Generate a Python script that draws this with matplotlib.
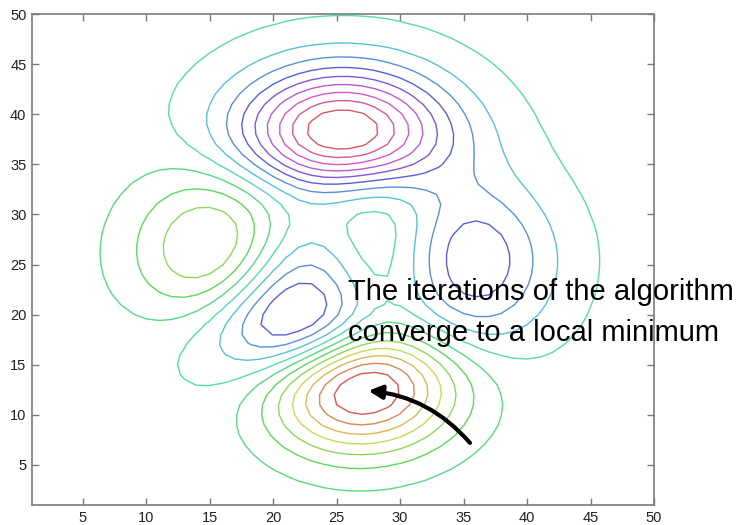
import colorsys
import numpy as np
import matplotlib
matplotlib.use("Agg")
import matplotlib.pyplot as plt

# Surface: the classic "peaks" test function sampled on a 50 x 50 grid
grid_n = 50
half_span = 3.0
n_levels = 16

# Axis ticks
x_ticks = [5, 10, 15, 20, 25, 30, 35, 40, 45, 50]
y_ticks = [5, 10, 15, 20, 25, 30, 35, 40, 45, 50]

# Annotation
caption_lines = ["The iterations of the algorithm", "converge to a local minimum"]
arrow_tail = (35.5, 7.2)
arrow_head = (27.5, 12.4)


def peaks(x, y):
    return (3 * (1 - x) ** 2 * np.exp(-x ** 2 - (y + 1) ** 2)
            - 10 * (x / 5 - x ** 3 - y ** 5) * np.exp(-x ** 2 - y ** 2)
            - 1 / 3 * np.exp(-(x + 1) ** 2 - y ** 2))


u = np.linspace(-half_span, half_span, grid_n)
U, V = np.meshgrid(u, u)
Z = peaks(U, V)
idx = np.arange(1, grid_n + 1)

levels = np.linspace(Z.min(), Z.max(), n_levels + 2)[1:-1]

# Line colours: linear hue wheel (64 steps) over the level range, muted
n_map = 64
frac = (levels - levels.min()) / (levels.max() - levels.min())
line_colors = []
for f in frac:
    k = min(int(f * n_map), n_map - 1)
    line_colors.append(colorsys.hsv_to_rgb(k / n_map, 0.6, 0.85))

fig = plt.figure(figsize=(7.41, 5.25), dpi=100)
ax = fig.add_axes([32 / 741, 20 / 525, (654 - 32) / 741, (505 - 14) / 525])

ax.contour(idx, idx, Z, levels=levels, colors=line_colors, linewidths=1.0)

ax.set_xlim(1, 50)
ax.set_ylim(1, 50)
ax.set_xticks(x_ticks)
ax.set_yticks(y_ticks)
spine_gray = "#7a7a7a"
for s in ax.spines.values():
    s.set_color(spine_gray)
    s.set_linewidth(1.2)
ax.tick_params(direction="in", length=5, width=1.0, color=spine_gray,
               top=True, right=True, labelsize=10.5, labelcolor="#222222", pad=4)
for lab in ax.get_xticklabels() + ax.get_yticklabels():
    lab.set_fontfamily("Liberation Sans")

ax.text(25.9, 21.46, caption_lines[0], fontsize=21, family="Liberation Sans",
        color="black", va="baseline", ha="left", clip_on=False)
ax.text(25.9, 17.37, caption_lines[1], fontsize=21, family="Liberation Sans",
        color="black", va="baseline", ha="left", clip_on=False)

ax.annotate("", xy=arrow_head, xytext=arrow_tail,
            arrowprops=dict(arrowstyle="-|>", connectionstyle="arc3,rad=0.2",
                            lw=3, color="black", mutation_scale=20,
                            shrinkA=0, shrinkB=0))

fig.savefig("out.png", dpi=100)
